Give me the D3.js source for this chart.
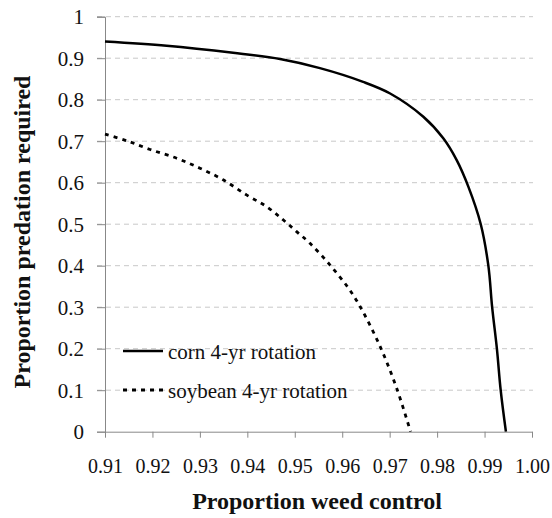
<!DOCTYPE html>
<html><head><meta charset="utf-8">
<script src="https://cdn.jsdelivr.net/npm/d3@7"></script>
<style>body{margin:0;background:#fff}svg{display:block}</style>
</head><body><svg id="c" width="552" height="518"></svg>
<script>
const cornX = [0.910,0.923,0.937,0.9469,0.9553,0.9644,0.9701,0.9771,0.9813,0.9841,0.9866,0.9892,0.9908,0.9916,0.9926,0.9934,0.9945];
const cornY = [0.940,0.930,0.913,0.898,0.876,0.843,0.815,0.759,0.707,0.655,0.590,0.500,0.400,0.300,0.200,0.100,0.000];
const soyX = [0.910,0.9146,0.9195,0.9251,0.930,0.9349,0.9399,0.9441,0.9476,0.9504,0.9532,0.9574,0.9613,0.9638,0.968,0.9715,0.9744];
const soyY = [0.717,0.701,0.680,0.659,0.635,0.607,0.570,0.542,0.510,0.482,0.454,0.402,0.346,0.301,0.205,0.104,0.000];
const xTicks = [0.91,0.92,0.93,0.94,0.95,0.96,0.97,0.98,0.99,1.00];
const yTicks = [0,0.1,0.2,0.3,0.4,0.5,0.6,0.7,0.8,0.9,1];
const seriesNames = ["corn 4-yr rotation","soybean 4-yr rotation"];

const svg = d3.select("#c");
const font = '"Liberation Serif", "Times New Roman", serif';
const x = d3.scaleLinear().domain([0.91,1.00]).range([105,532]);
const y = d3.scaleLinear().domain([0,1]).range([431.7,16.7]);

// gridlines
svg.append("g").selectAll("line").data(yTicks.filter(d=>d>0)).join("line")
  .attr("x1",97).attr("x2",533).attr("y1",d=>y(d)).attr("y2",d=>y(d))
  .attr("stroke","#c8c8c8").attr("stroke-width",1).attr("stroke-dasharray","5,4");

// y axis
const yAxis = svg.append("g").attr("transform","translate(105,0)")
  .call(d3.axisLeft(y).tickValues(yTicks).tickSize(8).tickFormat(d=>d===0?"0":d===1?"1":d3.format(".1f")(d)));
yAxis.attr("font-family",null).attr("font-size",null);
yAxis.select(".domain").attr("stroke","#888");
yAxis.selectAll(".tick line").attr("stroke","#888");
yAxis.selectAll("text").style("font-family",font).style("font-size","21px").attr("fill","#111").attr("x",-21).attr("dy","0.34em");

// x axis
const xAxis = svg.append("g").attr("transform","translate(0,431.7)")
  .call(d3.axisBottom(x).tickValues(xTicks).tickSize(6).tickSizeOuter(0).tickFormat(d3.format(".2f")));
xAxis.attr("font-family",null).attr("font-size",null);
xAxis.select(".domain").attr("stroke","#888");
xAxis.selectAll(".tick line").attr("stroke","#888");
xAxis.selectAll("text").style("font-family",font).style("font-size","20px").attr("fill","#111").attr("y",27);

// curves
const line = d3.line().x(d=>x(d[0])).y(d=>y(d[1])).curve(d3.curveCatmullRom.alpha(0.5));
svg.append("path").datum(cornX.map((v,i)=>[v,cornY[i]])).attr("d",line)
  .attr("fill","none").attr("stroke","#000").attr("stroke-width",2.5);
svg.append("path").datum(soyX.map((v,i)=>[v,soyY[i]])).attr("d",line)
  .attr("fill","none").attr("stroke","#000").attr("stroke-width",2.8).attr("stroke-dasharray","4,5");

// legend
const leg = [{y:351,dash:null},{y:390,dash:"4,5"}];
leg.forEach((l,i)=>{
  svg.append("line").attr("x1",123).attr("x2",163).attr("y1",l.y).attr("y2",l.y)
    .attr("stroke","#000").attr("stroke-width",i?2.8:2.5).attr("stroke-dasharray",l.dash);
  svg.append("text").attr("x",168).attr("y",l.y+8).style("font-family",font).style("font-size","21px")
    .attr("fill","#111").text(seriesNames[i]);
});

// axis titles
svg.append("text").attr("x",317).attr("y",509).attr("text-anchor","middle").style("font-family",font)
  .style("font-size","24px").style("font-weight","bold").attr("fill","#111").text("Proportion weed control");
svg.append("text").attr("transform","translate(30,232) rotate(-90)").attr("text-anchor","middle").style("font-family",font)
  .style("font-size","24px").style("font-weight","bold").attr("fill","#111").text("Proportion predation required");
</script></body></html>
